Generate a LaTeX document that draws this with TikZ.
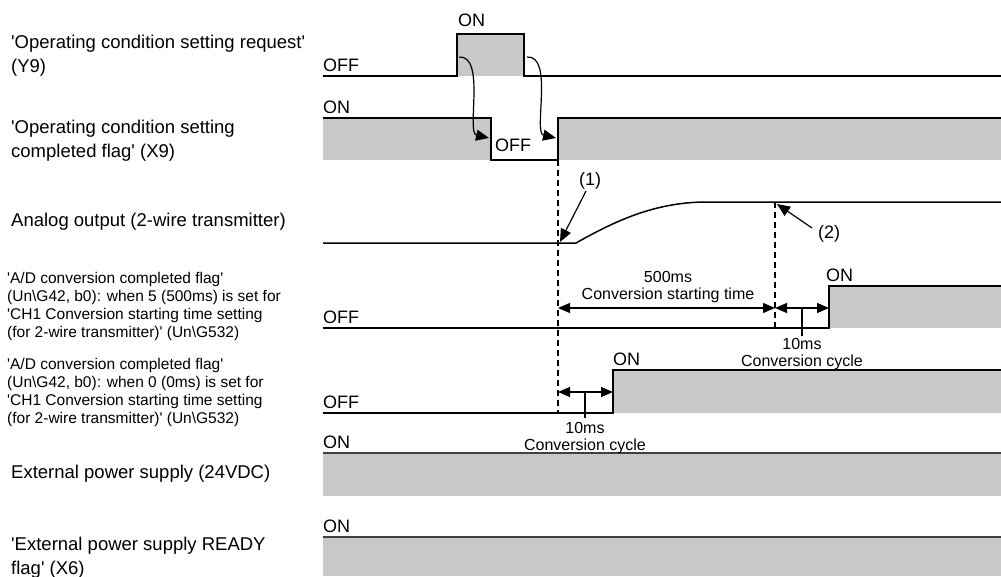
\documentclass[tikz,border=0pt]{standalone}
\usepackage{fontspec}
\setmainfont{Liberation Sans}
\usetikzlibrary{arrows.meta}
\definecolor{sig}{RGB}{199,200,202}
\newcommand\myq{\textquotesingle}
\newcommand\bsl{\textbackslash}
\begin{document}
\begin{tikzpicture}[x=1pt,y=-1pt,
  sigline/.style={line width=1.5pt,black,line join=miter},
  sigfill/.style={fill=sig,draw=none},
  lbl/.style={anchor=north west,inner sep=0pt,align=left,font=\fontsize{18.5}{23.5}\selectfont},
  smalllbl/.style={anchor=north west,inner sep=0pt,align=left,font=\fontsize{15.5}{18.1}\selectfont},
  st/.style={anchor=base west,inner sep=0pt,font=\fontsize{18}{20}\selectfont},
  dimtxt/.style={anchor=north,inner sep=0pt,align=center,font=\fontsize{16}{17.5}\selectfont},
  dimarr/.style={line width=1.2pt,{Triangle[length=12pt,width=10pt]}-{Triangle[length=12pt,width=10pt]}},
  tickline/.style={line width=1.2pt},
  cue/.style={line width=1.2pt,-{Triangle[length=13pt,width=11pt]}},
  dashv/.style={dash pattern=on 6pt off 4pt,line width=1.3pt},
  calltxt/.style={inner sep=0pt,font=\fontsize{18}{20}\selectfont}]
\useasboundingbox (0,0) rectangle (1001,576);

% ---------- left labels ----------
\node[lbl] (l1) at (11,35) {\myq Operating condition setting request\myq\\(Y9)};
\node[lbl] (l2) at (11,120) {\myq Operating condition setting\\completed flag\myq{} (X9)};
\node[lbl] (l3) at (11,213) {Analog output (2-wire transmitter)};
\node[smalllbl] (l4) at (7,272) {\myq A/D conversion completed flag\myq\\(Un\bsl G42, b0): when 5 (500ms) is set for\\\myq CH1 Conversion starting time setting\\(for 2-wire transmitter)\myq{} (Un\bsl G532)};
\node[smalllbl] (l5) at (7,358) {\myq A/D conversion completed flag\myq\\(Un\bsl G42, b0): when 0 (0ms) is set for\\\myq CH1 Conversion starting time setting\\(for 2-wire transmitter)\myq{} (Un\bsl G532)};
\node[lbl] (l6) at (11,465) {External power supply (24VDC)};
\node[lbl] (l7) at (11,537) {\myq External power supply READY\\flag\myq{} (X6)};

% ---------- fills ----------
\fill[sigfill] (457,34) rectangle (524,76);
\fill[sigfill] (323,118) rectangle (491,160);
\fill[sigfill] (558,118) rectangle (1001,160);
\fill[sigfill] (829,286) rectangle (1001,328);
\fill[sigfill] (613,370) rectangle (1001,413);
\fill[sigfill] (323,453) rectangle (1001,496);
\fill[sigfill] (323,537) rectangle (1001,576);

% ---------- signal lines ----------
\coordinate (y9a) at (323,76);
\coordinate (y9b) at (457,76);
\coordinate (y9c) at (457,34);
\coordinate (y9d) at (524,34);
\coordinate (y9e) at (524,76);
\coordinate (y9f) at (1001,76);
\draw[sigline] (y9a) -- (y9b) -- (y9c) -- (y9d) -- (y9e) -- (y9f);

\coordinate (x9a) at (323,118);
\coordinate (x9b) at (491,118);
\coordinate (x9c) at (491,160);
\coordinate (x9d) at (558,160);
\coordinate (x9e) at (558,118);
\coordinate (x9f) at (1001,118);
\draw[sigline] (x9a) -- (x9b) -- (x9c) -- (x9d) -- (x9e) -- (x9f);

\coordinate (ana) at (323,243);
\coordinate (anb) at (576,243);
\coordinate (anc) at (707,202);
\coordinate (and) at (1001,202);
\draw[sigline] (ana) -- (anb) .. controls (615,221) and (655,202) .. (anc) -- (and);

\coordinate (ada) at (323,328);
\coordinate (adb) at (829,328);
\coordinate (adc) at (829,286);
\coordinate (add) at (1001,286);
\draw[sigline] (ada) -- (adb) -- (adc) -- (add);

\coordinate (bda) at (323,413);
\coordinate (bdb) at (613,413);
\coordinate (bdc) at (613,370);
\coordinate (bdd) at (1001,370);
\draw[sigline] (bda) -- (bdb) -- (bdc) -- (bdd);

\coordinate (exa) at (323,453);
\coordinate (exb) at (1001,453);
\draw[sigline,black!75] (exa) -- (exb);
\coordinate (rda) at (323,537);
\coordinate (rdb) at (1001,537);
\draw[sigline,black!75] (rda) -- (rdb);

% ---------- ON/OFF labels ----------
\node[st] (s1off) at (323,71.5) {OFF};
\node[st] (s1on) at (458,26.5) {ON};
\node[st] (s2on) at (323,113.5) {ON};
\node[st] (s2off) at (495,151.5) {OFF};
\node[st] (s4off) at (323,323.5) {OFF};
\node[st] (s4on) at (826,281.5) {ON};
\node[st] (s5off) at (323,408) {OFF};
\node[st] (s5on) at (613,365.5) {ON};
\node[st] (s6on) at (323,448.5) {ON};
\node[st] (s7on) at (323,532.5) {ON};

% ---------- cue arrows ----------
\coordinate (c1s) at (459,57);
\coordinate (c1e) at (489,138);
\draw[cue] (c1s) .. controls (486,55) and (466,133) .. (c1e);
\coordinate (c2s) at (527,57);
\coordinate (c2e) at (556,138);
\draw[cue] (c2s) .. controls (554,55) and (533,133) .. (c2e);

% ---------- dashed lines ----------
\coordinate (d1t) at (558,160);
\coordinate (d1b) at (558,413);
\draw[dashv] (d1t) -- (d1b);
\coordinate (d2t) at (775,202);
\coordinate (d2b) at (775,328);
\draw[dashv] (d2t) -- (d2b);

% ---------- callouts ----------
\node[calltxt] (n1) at (590,181) {(1)};
\coordinate (n1t) at (560,242);
\draw[cue] (586,191) -- (n1t);
\node[calltxt] (n2) at (829,234) {(2)};
\coordinate (n2t) at (777,204);
\draw[cue] (812,228) -- (n2t);

% ---------- dimensions ----------
\coordinate (m1a) at (558,308);
\coordinate (m1b) at (775,308);
\coordinate (m1c) at (829,308);
\draw[dimarr] (m1a) -- (m1b);
\draw[dimarr] (m1b) -- (m1c);
\coordinate (t1a) at (802,308);
\coordinate (t1b) at (802,336);
\draw[tickline] (t1a) -- (t1b);
\node[dimtxt] (dt1) at (668,271) {500ms\\Conversion starting time};
\node[dimtxt] (dt2) at (802,338) {10ms\\Conversion cycle};

\coordinate (m2a) at (558,392);
\coordinate (m2b) at (613,392);
\draw[dimarr] (m2a) -- (m2b);
\coordinate (t2a) at (585,392);
\coordinate (t2b) at (585,418);
\draw[tickline] (t2a) -- (t2b);
\node[dimtxt] (dt3) at (585,422) {10ms\\Conversion cycle};
\end{tikzpicture}
\end{document}
